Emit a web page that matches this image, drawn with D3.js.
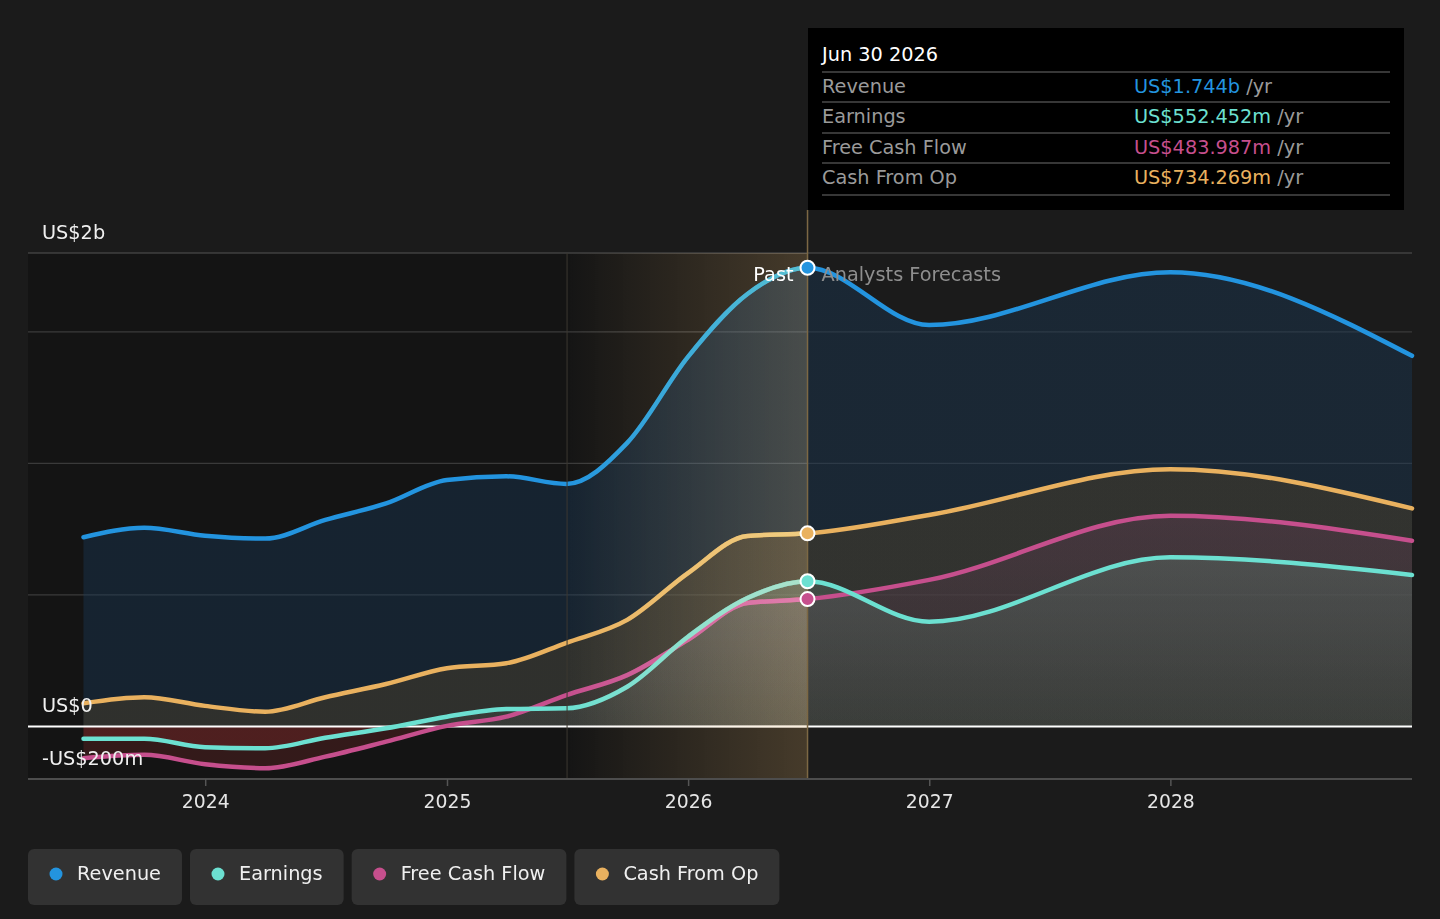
<!DOCTYPE html>
<head>
  <meta charset="utf-8">
  <title>Revenue, Earnings and Cash Flow</title>
  <script src="https://cdn.jsdelivr.net/npm/d3@7/dist/d3.min.js"></script>
  <style>
    body { margin: 0; background: #1b1b1b; }
    svg { display: block; font-family: "DejaVu Sans", sans-serif; }
  </style>
</head>
<body>
<div id="chart"></div>
<script>
  // data (US$ millions)
  var dates = ["2023-06-30", "2023-09-30", "2023-12-31", "2024-03-31", "2024-06-30", "2024-09-30",
               "2024-12-31", "2025-03-31", "2025-06-30", "2025-09-30", "2025-12-31", "2026-03-31",
               "2026-06-30", "2026-12-31", "2027-12-31", "2028-12-31"];
  var revenue  = [719, 755, 725, 714, 785, 848, 937, 951, 922, 1078, 1405, 1644, 1744, 1526, 1727, 1409];
  var earnings = [-47, -47, -79, -83, -43, -7, 37, 66, 69, 151, 341, 488, 552, 398, 643, 576];
  var fcf      = [-121, -108, -144, -159, -115, -58, 2, 37, 119, 195, 329, 469, 484, 557, 801, 706];
  var cfo      = [88, 111, 78, 56, 111, 161, 221, 240, 318, 405, 583, 724, 734, 804, 978, 829];

  var seriesNames  = ["Revenue", "Earnings", "Free Cash Flow", "Cash From Op"];
  var seriesColors = ["#2394df", "#6ce0d1", "#c64f8d", "#e9b15f"];
  var tooltipDate   = "Jun 30 2026";
  var tooltipValues = ["US$1.744b", "US$552.452m", "US$483.987m", "US$734.269m"];

  var yLabelValues = [1800, 0, -200];
  var yLabels      = ["US$2b", "US$0", "-US$200m"];
  var yGridValues  = [500, 1000, 1500];
  var xTickYears   = [2024, 2025, 2026, 2027, 2028];

  var pastEnd = "2026-06-30", highlightStart = "2025-07-01";

  var parse = d3.timeParse("%Y-%m-%d");
  var width = 1440, height = 919, fs = 19.3;

  var x = d3.scaleTime()
    .domain([parse("2023-04-07"), parse("2028-12-31")])
    .range([28, 1412]);
  var y = d3.scaleLinear()
    .domain([-200, 1800])
    .range([779, 253]);

  var svg = d3.select("#chart").append("svg")
    .attr("width", width)
    .attr("height", height);
  var defs = svg.append("defs");

  var xPast = x(parse(pastEnd)), xHi = x(parse(highlightStart));
  var yTop = y(1800), yBottom = y(-200);

  // backgrounds
  svg.append("rect").attr("width", width).attr("height", height).attr("fill", "#1b1b1b");
  svg.append("rect")
    .attr("x", x.range()[0]).attr("y", yTop)
    .attr("width", xPast - x.range()[0]).attr("height", yBottom - yTop)
    .attr("fill", "#141414");

  // grid
  svg.append("g").selectAll("line")
    .data(yGridValues.concat([1800]))
    .join("line")
    .attr("x1", x.range()[0]).attr("x2", x.range()[1])
    .attr("y1", d => y(d)).attr("y2", d => y(d))
    .attr("stroke", d => d == 1800 ? "#555" : "#3a3a3a")
    .attr("stroke-width", 1.2);

  var rows = dates.map(function(d, i) {
    return { date: parse(d), rev: revenue[i], earn: earnings[i], fcf: fcf[i], cfo: cfo[i] };
  });
  var keys = ["rev", "earn", "fcf", "cfo"];

  // area fills: muted series tone (fading toward zero for the lower two), red below zero
  var fillColor = { rev: "#193a5a", cfo: "#554428", fcf: "#623c53", earn: "#5d756c" };
  var fillAlpha = { rev: [0.4, 0.4], cfo: [0.4, 0.4], fcf: [0.4, 0.05], earn: [0.4, 0.15] };
  keys.forEach(function(k) {
    var yMax = y(d3.max(rows, d => d[k]));
    var zeroOff = (y(0) - yMax) / (yBottom - yMax);
    var g = defs.append("linearGradient")
      .attr("id", "fill-" + k)
      .attr("gradientUnits", "userSpaceOnUse")
      .attr("x1", 0).attr("x2", 0).attr("y1", yMax).attr("y2", yBottom);
    g.append("stop").attr("offset", 0).attr("stop-color", fillColor[k]).attr("stop-opacity", fillAlpha[k][0]);
    g.append("stop").attr("offset", zeroOff).attr("stop-color", fillColor[k]).attr("stop-opacity", fillAlpha[k][1]);
    g.append("stop").attr("offset", zeroOff).attr("stop-color", "#e63c3c").attr("stop-opacity", 0.15);
    g.append("stop").attr("offset", 1).attr("stop-color", "#e63c3c").attr("stop-opacity", 0.15);
  });

  var drawOrder = ["rev", "cfo", "fcf", "earn"];
  drawOrder.forEach(function(k) {
    svg.append("path")
      .datum(rows)
      .attr("fill", "url(#fill-" + k + ")")
      .attr("d", d3.area()
        .curve(d3.curveMonotoneX)
        .x(d => x(d.date))
        .y0(y(0))
        .y1(d => y(d[k])));
  });

  svg.append("line")
    .attr("x1", x.range()[0]).attr("x2", x.range()[1])
    .attr("y1", y(0)).attr("y2", y(0))
    .attr("stroke", "#ffffff").attr("stroke-width", 2);

  // lines
  drawOrder.forEach(function(k) {
    svg.append("path")
      .datum(rows)
      .attr("fill", "none")
      .attr("stroke", seriesColors[keys.indexOf(k)])
      .attr("stroke-width", 4.5)
      .attr("stroke-linecap", "round")
      .attr("d", d3.line()
        .curve(d3.curveMonotoneX)
        .x(d => x(d.date))
        .y(d => y(d[k])));
  });

  // last-year highlight: brighten, then warm tint
  var hg2 = defs.append("linearGradient").attr("id", "hi2");
  hg2.append("stop").attr("offset", 0).attr("stop-color", "#ffffff").attr("stop-opacity", 0);
  hg2.append("stop").attr("offset", 1).attr("stop-color", "#ffffff").attr("stop-opacity", 0.45);
  var hg = defs.append("linearGradient").attr("id", "hi");
  hg.append("stop").attr("offset", 0).attr("stop-color", "#e9b15f").attr("stop-opacity", 0);
  hg.append("stop").attr("offset", 1).attr("stop-color", "#e9b15f").attr("stop-opacity", 0.2);
  svg.append("rect")
    .attr("x", xHi).attr("y", yTop)
    .attr("width", xPast - xHi).attr("height", yBottom - yTop)
    .attr("fill", "url(#hi2)")
    .style("mix-blend-mode", "overlay");
  svg.append("rect")
    .attr("x", xHi).attr("y", yTop)
    .attr("width", xPast - xHi).attr("height", yBottom - yTop)
    .attr("fill", "url(#hi)");
  svg.append("line")
    .attr("x1", xHi).attr("x2", xHi).attr("y1", yTop).attr("y2", yBottom)
    .attr("stroke", "#3c3830").attr("stroke-width", 1);
  svg.append("line")
    .attr("x1", xPast).attr("x2", xPast).attr("y1", 210).attr("y2", yBottom)
    .attr("stroke", "#7d6844").attr("stroke-width", 1.5);

  // x axis
  svg.append("line")
    .attr("x1", x.range()[0]).attr("x2", x.range()[1])
    .attr("y1", yBottom).attr("y2", yBottom)
    .attr("stroke", "#4d4d4d").attr("stroke-width", 2);
  var xt = svg.append("g").selectAll("g")
    .data(xTickYears)
    .join("g")
    .attr("transform", d => "translate(" + x(new Date(d, 0, 1)) + ",0)");
  xt.append("line").attr("y1", yBottom).attr("y2", yBottom + 7).attr("stroke", "#555").attr("stroke-width", 1.5);
  xt.append("text")
    .attr("y", 808).attr("text-anchor", "middle")
    .attr("fill", "#e6e6e6").attr("font-size", 18.8)
    .text(d => d);

  // y labels
  svg.append("g").selectAll("text")
    .data(yLabelValues)
    .join("text")
    .attr("x", 42)
    .attr("y", d => y(d) - 14)
    .attr("fill", "#f0f0f0").attr("font-size", fs)
    .text((d, i) => yLabels[i]);

  // markers at the last reported point
  var last = rows[dates.indexOf(pastEnd)];
  svg.append("g").selectAll("circle")
    .data(keys)
    .join("circle")
    .attr("cx", xPast)
    .attr("cy", k => y(last[k]))
    .attr("r", 7)
    .attr("fill", (k, i) => seriesColors[i])
    .attr("stroke", "#fff").attr("stroke-width", 2);

  svg.append("text")
    .attr("x", xPast - 14).attr("y", 281)
    .attr("text-anchor", "end").attr("fill", "#fff").attr("font-size", fs)
    .text("Past");
  svg.append("text")
    .attr("x", xPast + 14).attr("y", 281)
    .attr("fill", "#8e8e8e").attr("font-size", fs)
    .text("Analysts Forecasts");

  // tooltip
  var tip = svg.append("g").attr("transform", "translate(808,28)");
  tip.append("rect").attr("width", 596).attr("height", 182).attr("fill", "#000");
  tip.append("text").attr("x", 14).attr("y", 33).attr("fill", "#fff").attr("font-size", fs).text(tooltipDate);
  var rowY = [44, 74, 105, 135, 167];
  tip.selectAll(".sep")
    .data(rowY)
    .join("line")
    .attr("x1", 14).attr("x2", 582)
    .attr("y1", d => d).attr("y2", d => d)
    .attr("stroke", "#4a4a4a").attr("stroke-width", 1.5);
  var tr = tip.selectAll(".row")
    .data(seriesNames)
    .join("g")
    .attr("transform", (d, i) => "translate(0," + (rowY[i] + 21) + ")");
  tr.append("text").attr("x", 14).attr("fill", "#9a9a9a").attr("font-size", fs).text(d => d);
  var vt = tr.append("text").attr("x", 326).attr("font-size", fs);
  vt.append("tspan").attr("fill", (d, i) => seriesColors[i]).text((d, i) => tooltipValues[i]);
  vt.append("tspan").attr("fill", "#9a9a9a").text(" /yr");

  // legend
  var lx = 28;
  seriesNames.forEach(function(name, i) {
    var g = svg.append("g").attr("transform", "translate(" + lx + ",849)");
    var r = g.append("rect").attr("height", 56).attr("rx", 6).attr("fill", "#323232");
    g.append("circle").attr("cx", 28).attr("cy", 25).attr("r", 6.5).attr("fill", seriesColors[i]);
    var t = g.append("text").attr("x", 49).attr("y", 31)
      .attr("fill", "#f0f0f0").attr("font-size", fs).text(name);
    var w = 49 + t.node().getComputedTextLength() + 21;
    r.attr("width", w);
    lx += w + 8;
  });
</script>
</body>
